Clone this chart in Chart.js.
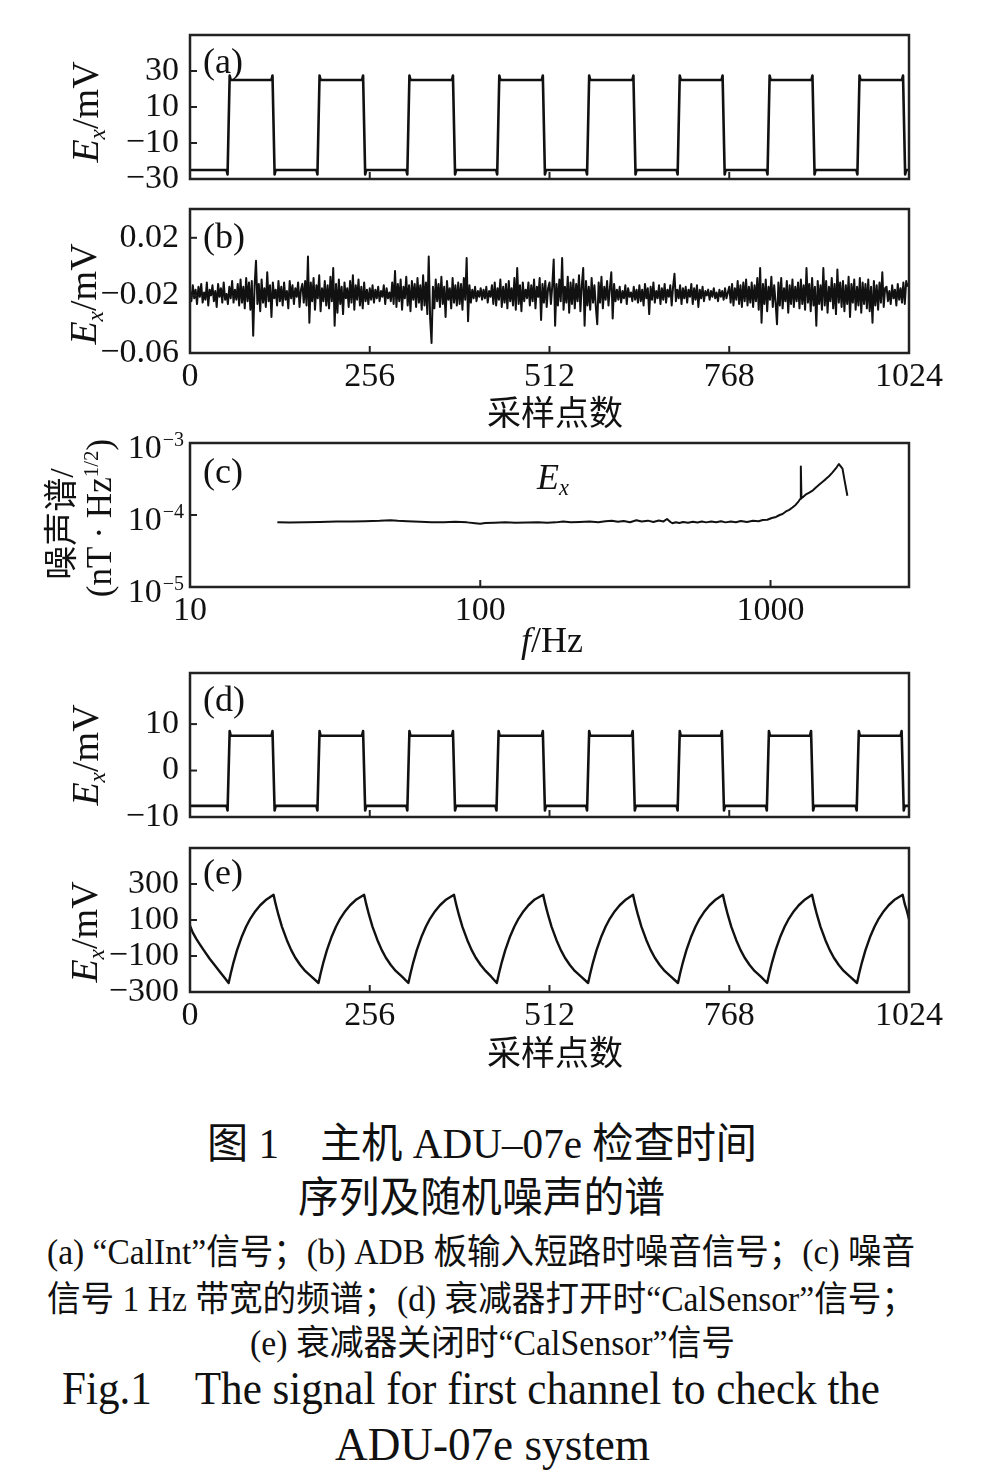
<!DOCTYPE html>
<html>
<head>
<meta charset="utf-8">
<script src="https://cdn.jsdelivr.net/npm/chart.js@4.4.1/dist/chart.umd.min.js"></script>
<style>
  html, body { margin: 0; padding: 0; background: #fff; }
  #page { position: relative; width: 992px; height: 1483px; overflow: hidden; background: #fff; }
  #page canvas { position: absolute; left: 0; }
  .lbl { position: absolute; white-space: nowrap; line-height: 1; color: #111;
         font-family: "Liberation Serif", "Noto Sans CJK SC", serif; }
  .yt { transform: translate(-50%, -50%) rotate(-90deg); }
  .cap { transform-origin: left center; }
  sub { font-size: 0.62em; vertical-align: -0.28em; line-height: 0; }
  sup { font-size: 0.6em; vertical-align: 0.6em; line-height: 0; }
</style>
</head>
<body>
<div id="page">
  <canvas id="chartA" width="992" height="224" style="top:-5px"></canvas>
  <canvas id="chartB" width="992" height="256" style="top:169px"></canvas>
  <canvas id="chartC" width="992" height="254" style="top:403px"></canvas>
  <canvas id="chartD" width="992" height="224" style="top:633px"></canvas>
  <canvas id="chartE" width="992" height="259" style="top:808px"></canvas>

  <div class="lbl" style="left:203px;top:43px;font-size:36px">(a)</div>
  <div class="lbl" style="left:203px;top:218px;font-size:36px">(b)</div>
  <div class="lbl" style="left:203px;top:453px;font-size:36px">(c)</div>
  <div class="lbl" style="left:203px;top:681px;font-size:36px">(d)</div>
  <div class="lbl" style="left:203px;top:854px;font-size:36px">(e)</div>

  <div class="lbl yt" style="left:85px;top:112px;font-size:38px"><i>E<sub>x</sub></i>/mV</div>
  <div class="lbl yt" style="left:83px;top:294px;font-size:38px"><i>E<sub>x</sub></i>/mV</div>
  <div class="lbl yt" style="left:85px;top:755px;font-size:38px"><i>E<sub>x</sub></i>/mV</div>
  <div class="lbl yt" style="left:84px;top:932px;font-size:38px"><i>E<sub>x</sub></i>/mV</div>

  <div class="lbl yt" style="left:62px;top:524px;font-size:34px">噪声谱/</div>
  <div class="lbl yt" style="left:99px;top:518px;font-size:35px">(nT · Hz<sup>1/2</sup>)</div>
  <div class="lbl" style="left:537px;top:459px;font-size:36px"><i>E<sub>x</sub></i></div>
  <div class="lbl" style="left:521px;top:622px;font-size:36px"><i>f</i>/Hz</div>

  <div class="lbl" style="left:487px;top:397px;font-size:34px">采样点数</div>
  <div class="lbl" style="left:487px;top:1037px;font-size:34px">采样点数</div>

  <div class="lbl cap" data-w="550" style="left:207px;top:1123px;font-size:42px">图 1　主机 ADU–07e 检查时间</div>
  <div class="lbl cap" data-w="367" style="left:298px;top:1177px;font-size:42px">序列及随机噪声的谱</div>
  <div class="lbl cap" data-w="868" style="left:47px;top:1235px;font-size:35px">(a) “CalInt”信号；(b) ADB 板输入短路时噪音信号；(c) 噪音</div>
  <div class="lbl cap" data-w="868" style="left:47px;top:1282px;font-size:35px">信号 1 Hz 带宽的频谱；(d) 衰减器打开时“CalSensor”信号；</div>
  <div class="lbl cap" data-w="485" style="left:250px;top:1326px;font-size:35px">(e) 衰减器关闭时“CalSensor”信号</div>
  <div class="lbl cap" data-w="818" style="left:62px;top:1366px;font-size:46px">Fig.1　The signal for first channel to check the</div>
  <div class="lbl cap" data-w="315" style="left:335px;top:1422px;font-size:46px">ADU-07e system</div>
</div>

<script>
// ---------- data ----------
const sampleTicks = [0, 256, 512, 768, 1024];
const sampleTickLabels = ['0', '256', '512', '768', '1024'];

// (a) "CalInt" square wave: edge positions (sample index) and levels (mV)
const riseA = [55, 183, 311, 439, 567, 696, 824, 952];
const fallA = [119, 248, 376, 504, 633, 760, 888, 1017];
const levelsA = [-25, 25];
const ringA = 2.5;
const yTicksA = [-30, -10, 10, 30];
const yLabelsA = ['−30', '−10', '10', '30'];

// (b) short-circuit noise, one value every 2 samples (mV)
const noiseStep = 2;
const noiseB = [
  -.017,-.024,-.013,-.022,-.016,-.026,-.014,-.021,-.012,-.025,-.018,-.023,-.011,-.027,-.016,-.020,
  -.013,-.024,-.017,-.028,-.012,-.021,-.015,-.025,-.011,-.023,-.019,-.026,-.014,-.022,-.010,-.025,
  -.016,-.023,-.012,-.027,-.009,-.025,-.014,-.029,-.008,-.024,-.011,-.030,-.010,-.048,-.013,.004,
  -.026,-.012,-.031,-.009,-.025,-.015,-.028,-.004,-.024,-.013,-.035,-.011,-.022,-.016,-.027,-.010,
  -.024,-.014,-.027,-.011,-.023,-.017,-.029,-.010,-.022,-.013,-.026,-.015,-.021,-.011,-.028,-.016,
  -.012,-.025,-.010,-.027,.007,-.039,-.011,-.024,-.008,-.030,-.013,-.022,-.006,-.031,-.015,-.024,
  -.010,-.027,-.013,-.029,-.007,-.024,-.001,-.041,-.012,-.032,-.009,-.026,-.014,-.033,-.011,-.022,
  -.015,-.028,-.010,-.025,-.006,-.030,-.013,-.023,-.009,-.027,-.014,-.029,-.011,-.024,-.016,-.026,
  -.015,-.023,-.013,-.025,-.016,-.022,-.014,-.024,-.017,-.021,-.013,-.026,-.015,-.022,-.018,-.024,
  -.011,-.026,-.003,-.028,-.012,-.024,-.009,-.030,-.014,-.022,-.007,-.027,-.013,-.031,-.010,-.023,
  -.012,-.028,-.008,-.025,-.013,-.030,-.006,-.027,-.011,-.033,.007,-.036,-.053,-.014,-.029,-.009,
  -.024,-.012,-.028,-.007,-.026,-.014,-.035,-.010,-.023,-.015,-.029,-.008,-.025,-.013,-.027,-.011,
  -.026,-.012,-.030,-.008,-.023,.006,-.038,-.013,-.025,-.016,-.022,-.014,-.024,-.017,-.021,-.015,
  -.023,-.016,-.022,-.014,-.025,-.017,-.021,-.013,-.026,-.011,-.027,-.015,-.023,-.009,-.028,-.014,
  -.025,-.012,-.029,-.010,-.024,-.015,-.027,-.008,-.030,-.001,-.026,-.013,-.031,-.011,-.024,-.016,
  -.022,-.011,-.027,-.013,-.024,-.009,-.029,-.014,-.021,-.008,-.037,-.012,-.025,-.010,-.028,-.015,
  -.011,-.026,-.013,.005,-.041,-.012,-.027,-.009,-.024,.006,-.030,-.014,-.025,-.007,-.032,-.011,
  -.026,-.009,-.029,-.012,-.024,-.006,-.031,-.013,-.001,-.041,-.010,-.027,-.014,-.030,-.008,-.025,
  -.013,-.028,-.040,-.011,-.025,-.007,-.029,-.014,-.023,-.010,-.027,-.015,-.004,-.036,-.012,-.024,
  -.016,-.023,-.014,-.025,-.017,-.022,-.013,-.026,-.015,-.021,-.018,-.024,-.014,-.023,-.016,-.025,
  -.013,-.024,-.016,-.027,-.012,-.022,-.015,-.033,-.014,-.023,-.011,-.025,-.017,-.022,-.013,-.026,
  -.015,-.023,-.012,-.025,-.016,-.021,-.013,-.027,-.014,-.005,-.024,-.016,-.022,-.013,-.026,-.015,
  -.022,-.014,-.025,-.016,-.021,-.012,-.026,-.015,-.023,-.013,-.028,-.016,-.022,-.014,-.024,-.017,
  -.020,-.016,-.023,-.017,-.021,-.015,-.022,-.018,-.024,-.016,-.021,-.017,-.023,-.015,-.022,-.018,
  -.014,-.025,-.012,-.027,-.015,-.023,-.010,-.026,-.013,-.028,-.011,-.024,-.009,-.027,-.014,-.025,
  -.011,-.028,-.013,-.024,-.008,-.030,-.001,-.039,-.012,-.026,-.009,-.031,-.014,-.023,-.007,-.028,
  -.013,-.025,-.040,-.011,-.027,-.008,-.029,-.015,-.024,-.010,-.032,-.013,-.026,-.009,-.028,-.014,
  -.024,-.011,-.029,-.009,-.026,-.013,-.030,-.001,-.025,-.012,-.031,-.008,-.027,-.014,-.041,-.010,
  -.026,-.013,-.030,-.001,-.027,-.010,-.032,-.014,-.024,-.008,-.029,-.012,-.033,-.002,-.025,-.011,
  -.028,-.010,-.031,-.013,-.026,-.007,-.035,-.012,-.025,-.009,-.030,-.014,-.027,-.008,-.032,-.011,
  -.026,-.012,-.029,-.009,-.031,-.014,-.039,-.010,-.027,-.013,-.030,-.011,-.025,-.004,-.028,-.015,
  -.014,-.024,-.017,-.026,-.013,-.022,-.016,-.027,-.012,-.023,-.015,-.025,-.011,-.026,-.010,-.014
];
const yTicksB = [-0.06, -0.02, 0.02];
const yLabelsB = ['−0.06', '−0.02', '0.02'];

// (c) noise spectrum, 1 Hz bandwidth
const specFreq = [20, 22, 25, 28, 32, 36, 40, 45, 49, 52, 56, 62, 68, 75, 82, 90, 96, 100, 104, 112,
  122, 132, 145, 158, 170, 182, 193, 205, 220, 238, 255, 270, 284, 298, 312, 328, 345, 360, 378, 395,
  412, 428, 440, 452, 459, 472, 485, 500, 520, 540, 560, 580, 600, 625, 650, 675, 700, 730, 760, 790,
  830, 870, 910, 940, 975, 1010, 1045, 1075, 1100, 1130, 1160, 1190, 1220, 1250, 1265, 1272, 1278, 1300,
  1330, 1360, 1400, 1440, 1480, 1520, 1550, 1590, 1630, 1660, 1690, 1720, 1740, 1770, 1800, 1840];
const specAmp = [7.9e-5, 7.85e-5, 7.9e-5, 8.0e-5, 8.1e-5, 8.15e-5, 8.2e-5, 8.3e-5, 8.45e-5, 8.3e-5,
  8.2e-5, 8.05e-5, 7.9e-5, 7.95e-5, 8.05e-5, 7.9e-5, 7.7e-5, 7.55e-5, 7.75e-5, 7.8e-5,
  7.9e-5, 7.8e-5, 7.85e-5, 7.95e-5, 7.8e-5, 7.9e-5, 8.1e-5, 7.95e-5, 8.0e-5, 8.1e-5,
  7.95e-5, 8.2e-5, 8.3e-5, 8.05e-5, 8.25e-5, 7.95e-5, 8.45e-5, 8.1e-5, 8.35e-5, 8.0e-5,
  8.4e-5, 8.15e-5, 8.8e-5, 8.0e-5, 7.7e-5, 7.95e-5, 7.75e-5, 8.0e-5, 7.8e-5, 8.05e-5,
  7.85e-5, 8.1e-5, 7.9e-5, 8.15e-5, 7.95e-5, 8.2e-5, 7.9e-5, 8.15e-5, 7.95e-5, 8.25e-5,
  8.0e-5, 8.3e-5, 8.2e-5, 8.5e-5, 8.6e-5, 9.1e-5, 9.4e-5, 1.0e-4, 1.03e-4, 1.12e-4,
  1.18e-4, 1.27e-4, 1.38e-4, 1.55e-4, 1.67e-4, 4.7e-4, 1.72e-4, 1.8e-4,
  1.95e-4, 2.05e-4, 2.2e-4, 2.45e-4, 2.7e-4, 2.95e-4, 3.15e-4, 3.45e-4, 3.85e-4, 4.2e-4,
  4.6e-4, 5.1e-4, 4.8e-4, 4.4e-4, 3.0e-4, 1.85e-4];
const specTicksX = [10, 100, 1000];
const specLabelsX = ['10', '100', '1000'];
const specTicksY = [1e-5, 1e-4, 1e-3];
const specExpY = ['−5', '−4', '−3'];

// (d) "CalSensor", attenuator on
const riseD = [55, 183, 311, 438, 567, 696, 823, 951];
const fallD = [119, 248, 376, 504, 632, 759, 886, 1015];
const levelsD = [-7.6, 7.5];
const ringD = 1.0;
const yTicksD = [-10, 0, 10];
const yLabelsD = ['−10', '0', '10'];

// (e) "CalSensor", attenuator off: [sample, mV]
const pointsE = [
  [0,68],[4,30],[9,-5],[14,-35],[20,-70],[28,-115],[35,-150],[43,-190],[49,-220],[55,-250],
  [58,-197],[62,-135],[67,-67],[74,10],[80,64],[86,108],[93,149],[100,182],[109,214],[119,240],
  [122,188],[126,128],[131,62],[138,-12],[144,-66],[150,-110],[157,-150],[164,-183],[173,-215],[183,-250],
  [186,-197],[190,-135],[195,-67],[202,10],[208,64],[214,108],[221,149],[228,182],[237,214],[248,240],
  [251,188],[255,128],[260,62],[267,-12],[273,-66],[279,-110],[286,-150],[293,-183],[302,-215],[311,-250],
  [314,-197],[318,-135],[323,-67],[330,10],[336,64],[342,108],[349,149],[356,182],[365,214],[376,240],
  [379,188],[383,128],[388,62],[395,-12],[401,-66],[407,-110],[414,-150],[421,-183],[429,-215],[437,-250],
  [440,-197],[444,-135],[449,-67],[456,10],[462,64],[468,108],[475,149],[482,182],[491,214],[503,240],
  [506,188],[510,128],[515,62],[522,-12],[528,-66],[534,-110],[541,-150],[548,-183],[557,-215],[567,-250],
  [570,-197],[574,-135],[579,-67],[586,10],[592,64],[598,108],[605,149],[612,182],[621,214],[631,240],
  [634,188],[638,128],[643,62],[650,-12],[656,-66],[662,-110],[669,-150],[676,-183],[685,-215],[695,-250],
  [698,-197],[702,-135],[707,-67],[714,10],[720,64],[726,108],[733,149],[740,182],[749,214],[759,240],
  [762,188],[766,128],[771,62],[778,-12],[784,-66],[790,-110],[797,-150],[804,-183],[813,-215],[822,-250],
  [825,-197],[829,-135],[834,-67],[841,10],[847,64],[853,108],[860,149],[867,182],[876,214],[886,240],
  [889,188],[893,128],[898,62],[905,-12],[911,-66],[917,-110],[924,-150],[931,-183],[940,-215],[950,-250],
  [953,-197],[957,-135],[962,-67],[969,10],[975,64],[981,108],[988,149],[995,182],[1004,214],[1015,240],
  [1018,188],[1021,150],[1024,105]
];
const yTicksE = [-300, -100, 100, 300];
const yLabelsE = ['−300', '−100', '100', '300'];

// ---------- helpers ----------
function squarePoints(rises, falls, levels, ring) {
  const lo = levels[0], hi = levels[1];
  const pts = [{ x: 0, y: lo }];
  rises.forEach((r, k) => {
    const f = falls[k];
    pts.push({ x: r - 3, y: lo }, { x: r - 1.5, y: lo - ring }, { x: r + 1.5, y: hi + ring }, { x: r + 3, y: hi });
    pts.push({ x: f - 3, y: hi }, { x: f - 1.5, y: hi + ring }, { x: f + 1.5, y: lo - ring }, { x: f + 3, y: lo });
  });
  pts.push({ x: 1024, y: lo });
  return pts;
}

const frame = {
  id: 'frame',
  afterDatasetsDraw(chart) {
    const { ctx, chartArea: a, scales } = chart;
    ctx.save();
    ctx.strokeStyle = '#222';
    ctx.lineWidth = 2;
    scales.y.ticks.forEach(t => {
      const p = scales.y.getPixelForValue(t.value);
      ctx.beginPath(); ctx.moveTo(a.left, p); ctx.lineTo(a.left + 7, p); ctx.stroke();
    });
    scales.x.ticks.forEach(t => {
      const p = scales.x.getPixelForValue(t.value);
      ctx.beginPath(); ctx.moveTo(p, a.bottom); ctx.lineTo(p, a.bottom - 7); ctx.stroke();
    });
    ctx.lineWidth = 2.5;
    ctx.strokeRect(a.left, a.top, a.right - a.left, a.bottom - a.top);
    ctx.restore();
  }
};

// 10^n labels for the log axis of panel (c)
const powerLabels = {
  id: 'powerLabels',
  afterDraw(chart) {
    const { ctx, scales } = chart;
    const s = scales.y;
    ctx.save();
    ctx.fillStyle = '#111';
    ctx.textAlign = 'right';
    ctx.textBaseline = 'alphabetic';
    specTicksY.forEach((v, i) => {
      const p = s.getPixelForValue(v);
      ctx.font = '20px "Liberation Serif"';
      const ew = ctx.measureText(specExpY[i]).width;
      ctx.fillText(specExpY[i], 184, p + 3);
      ctx.font = '34px "Liberation Serif"';
      ctx.fillText('10', 184 - ew - 1, p + 15);
    });
    ctx.restore();
  }
};

function panel(id, o) {
  return new Chart(document.getElementById(id), {
    type: 'line',
    data: { datasets: [{ data: o.data, borderColor: '#111', borderWidth: o.lw, pointRadius: 0,
                         tension: 0, fill: false, borderJoinStyle: 'round' }] },
    options: {
      responsive: false, animation: false, events: [],
      layout: { padding: { left: 0, right: 83, top: 40, bottom: 0 } },
      plugins: { legend: { display: false }, tooltip: { enabled: false } },
      scales: {
        x: {
          type: o.xType || 'linear', min: o.xMin, max: o.xMax,
          grid: { display: false, drawTicks: false }, border: { display: false },
          afterBuildTicks: s => { s.ticks = o.xTicks.map(v => ({ value: v })); },
          afterFit: s => { s.height = o.xh; },
          ticks: { display: !!o.xLabels, autoSkip: false, maxRotation: 0, padding: 4, color: '#111',
                   font: { family: 'Liberation Serif', size: 34 },
                   callback: (v, i) => (o.xLabels ? o.xLabels[i] : '') }
        },
        y: {
          type: o.yType || 'linear', min: o.yMin, max: o.yMax,
          grid: { display: false, drawTicks: false }, border: { display: false },
          afterBuildTicks: s => { s.ticks = o.yTicks.map(v => ({ value: v })); },
          afterFit: s => { s.width = 190; },
          ticks: { display: !!o.yLabels, autoSkip: false, padding: 11, color: '#111',
                   font: { family: 'Liberation Serif', size: 34 },
                   callback: (v, i) => (o.yLabels ? o.yLabels[i] : '') }
        }
      }
    },
    plugins: o.extra ? [frame, o.extra] : [frame]
  });
}

Chart.defaults.font.family = 'Liberation Serif';

panel('chartA', { data: squarePoints(riseA, fallA, levelsA, ringA), lw: 2.6,
  xMin: 0, xMax: 1024, xTicks: sampleTicks, xh: 40,
  yMin: -30, yMax: 50, yTicks: yTicksA, yLabels: yLabelsA });

panel('chartB', { data: noiseB.map((v, i) => ({ x: i * noiseStep, y: v })), lw: 2,
  xMin: 0, xMax: 1024, xTicks: sampleTicks, xLabels: sampleTickLabels, xh: 72,
  yMin: -0.06, yMax: 0.04, yTicks: yTicksB, yLabels: yLabelsB });

panel('chartC', { data: specFreq.map((f, i) => ({ x: f, y: specAmp[i] })), lw: 2,
  xType: 'logarithmic', xMin: 10, xMax: 3000, xTicks: specTicksX, xLabels: specLabelsX, xh: 70,
  yType: 'logarithmic', yMin: 1e-5, yMax: 1e-3, yTicks: specTicksY, extra: powerLabels });

panel('chartD', { data: squarePoints(riseD, fallD, levelsD, ringD), lw: 2.6,
  xMin: 0, xMax: 1024, xTicks: sampleTicks, xh: 40,
  yMin: -10, yMax: 21, yTicks: yTicksD, yLabels: yLabelsD });

panel('chartE', { data: pointsE.map(p => ({ x: p[0], y: p[1] })), lw: 2.4,
  xMin: 0, xMax: 1024, xTicks: sampleTicks, xLabels: sampleTickLabels, xh: 75,
  yMin: -300, yMax: 500, yTicks: yTicksE, yLabels: yLabelsE });

// squeeze caption lines to the widths they have in the figure
document.querySelectorAll('.cap').forEach(el => {
  const w = el.getBoundingClientRect().width;
  el.style.transform = 'scaleX(' + (Number(el.dataset.w) / w) + ')';
});
</script>
</body>
</html>
